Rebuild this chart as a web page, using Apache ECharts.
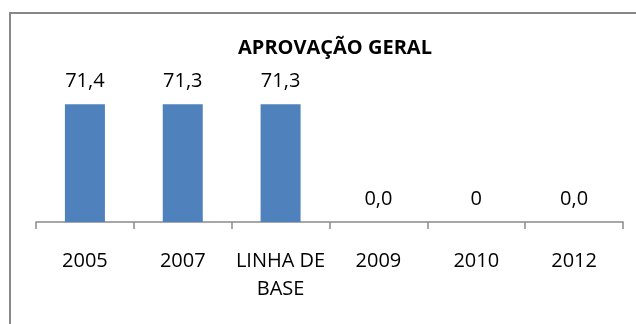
<!DOCTYPE html>
<html>
<head>
<meta charset="utf-8">
<script src="https://cdn.jsdelivr.net/npm/echarts@6/dist/echarts.min.js"></script>
<style>
  html, body { margin: 0; padding: 0; background: #ffffff; }
  #chart { width: 636px; height: 324px; }
</style>
</head>
<body>
<div id="chart"></div>
<script>
// Aprovação geral por ano
const categories = ['2005', '2007', 'LINHA DE\nBASE', '2009', '2010', '2012'];
const values = [71.4, 71.3, 71.3, 0.0, 0, 0.0];
const decimals = [1, 1, 1, 1, 0, 1];
const titleText = 'APROVAÇÃO GERAL';

const FONT = '"Open Sans", sans-serif';

const chart = echarts.init(document.getElementById('chart'), null, { renderer: 'canvas' });

chart.setOption({
  backgroundColor: '#ffffff',
  animation: false,
  graphic: [{
    type: 'rect',
    left: 9,
    top: 12,
    shape: { width: 700, height: 400 },
    style: { fill: 'transparent', stroke: '#888888', lineWidth: 2 },
    z: 0
  }],
  title: {
    text: titleText,
    left: 330,
    top: 33,
    textAlign: 'center',
    textStyle: {
      fontFamily: FONT,
      fontWeight: 'bold',
      fontSize: 20,
      color: '#000000'
    }
  },
  grid: { left: 36, right: 13, top: 90, bottom: 102, containLabel: false },
  xAxis: {
    type: 'category',
    data: categories,
    axisLine: { show: true, lineStyle: { color: '#8a8a8a', width: 1.5 } },
    axisTick: { show: true, alignWithLabel: false, interval: 0, length: 7, lineStyle: { color: '#8a8a8a', width: 1.5 } },
    axisLabel: {
      fontFamily: FONT,
      fontSize: 20,
      lineHeight: 28,
      margin: 25,
      color: '#000000',
      interval: 0
    }
  },
  yAxis: {
    type: 'value',
    min: 0,
    max: 80,
    show: false
  },
  series: [{
    type: 'bar',
    data: values,
    barWidth: 40,
    itemStyle: { color: '#4f81bd' },
    label: {
      show: true,
      position: 'top',
      distance: 13,
      fontFamily: FONT,
      fontSize: 20,
      lineHeight: 20,
      color: '#000000',
      formatter: p => values[p.dataIndex].toFixed(decimals[p.dataIndex]).replace('.', ',')
    }
  }]
});
</script>
</body>
</html>
